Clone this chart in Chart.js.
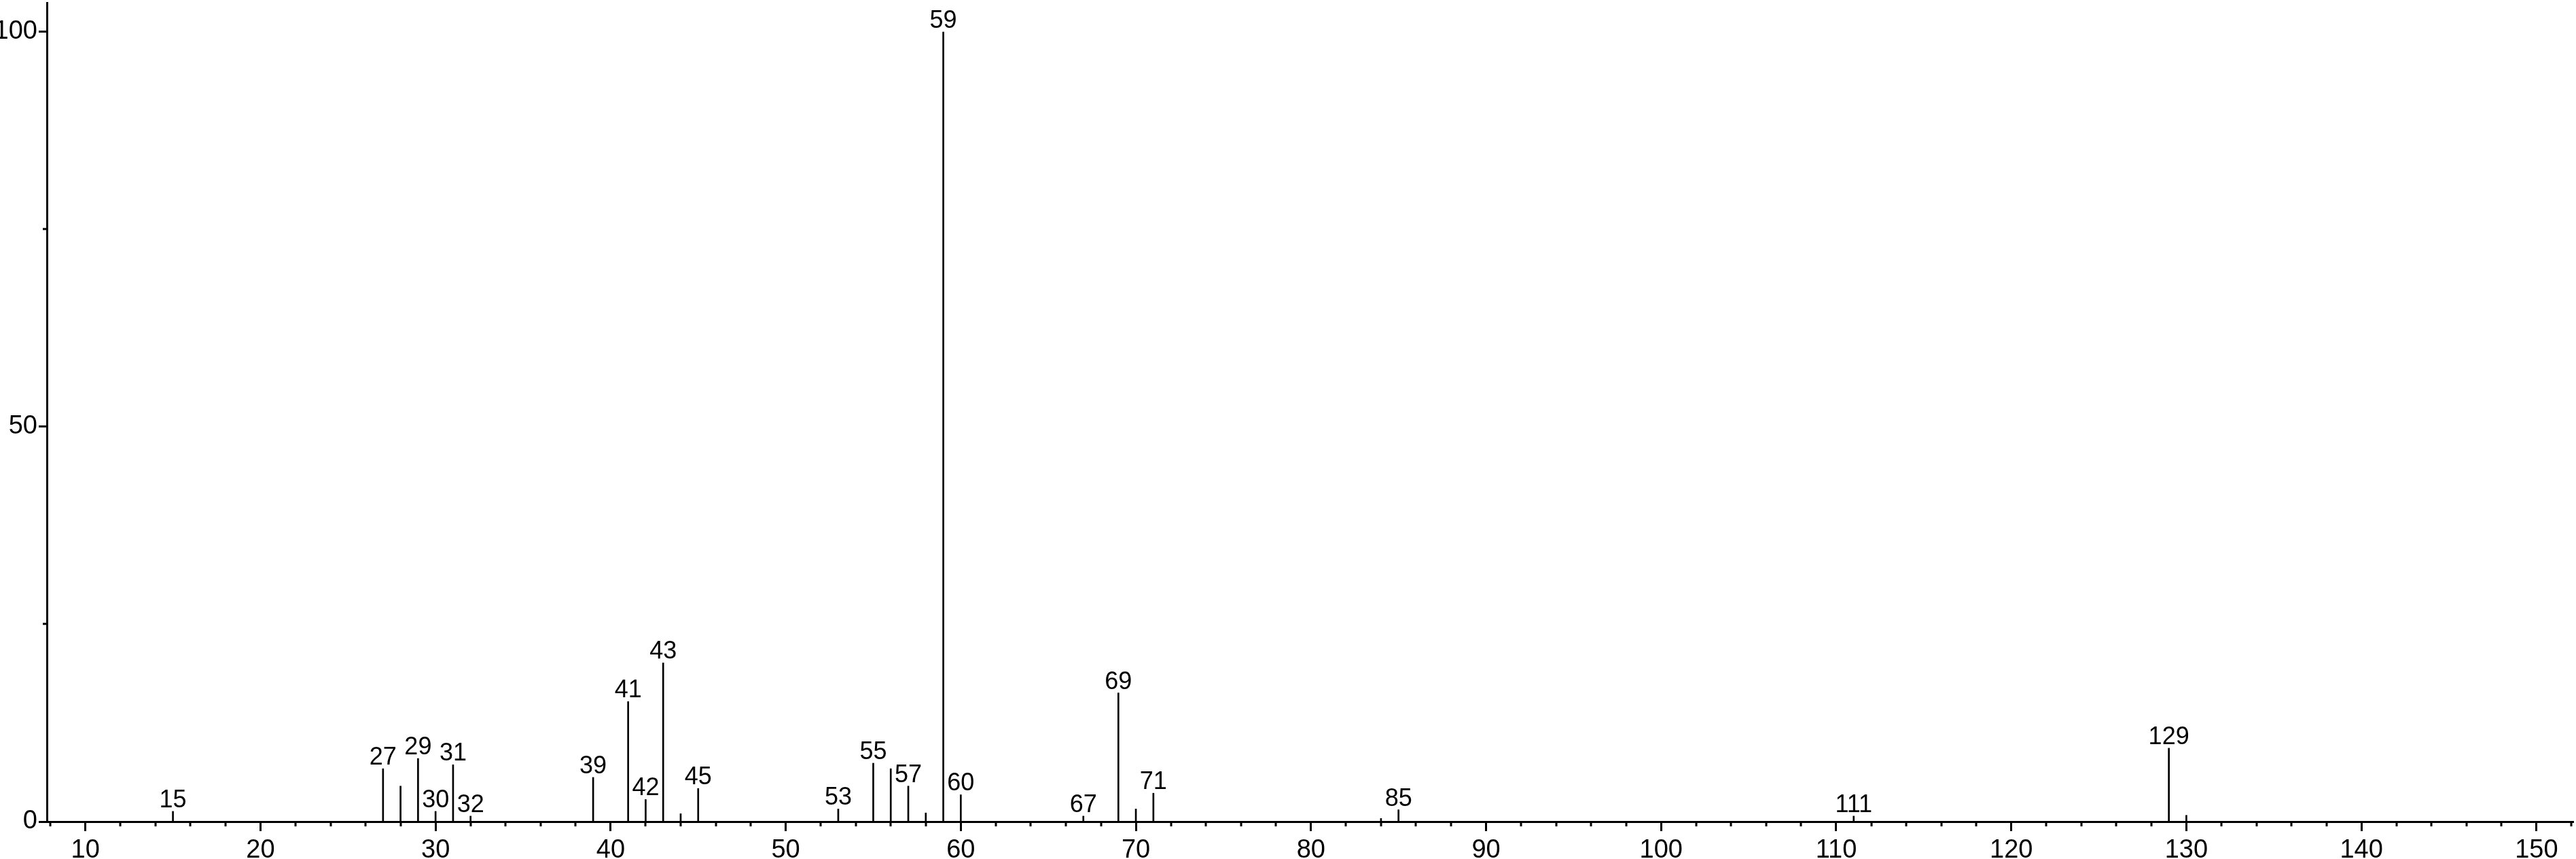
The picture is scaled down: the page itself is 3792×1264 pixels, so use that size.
<!DOCTYPE html>
<html>
<head>
<meta charset="utf-8">
<script src="https://cdn.jsdelivr.net/npm/chart.js@4.4.1/dist/chart.umd.min.js"></script>
<style>
  html, body { margin: 0; padding: 0; background: #fff; }
  #wrap { width: 3792px; height: 1264px; }
</style>
</head>
<body>
<div id="wrap"><canvas id="chart" width="3792" height="1264"></canvas></div>
<script>
// m/z values and relative intensities
const mz = [15, 27, 28, 29, 30, 31, 32, 39, 41, 42, 43, 44, 45, 53, 55, 56, 57, 58, 59, 60, 67, 69, 70, 71, 84, 85, 111, 129, 130]
const intensity = [1.3, 6.7, 4.5, 8.0, 1.3, 7.2, 0.7, 5.6, 15.2, 2.8, 20.1, 1.0, 4.2, 1.6, 7.4, 6.7, 4.5, 1.1, 100, 3.4, 0.7, 16.3, 1.6, 3.6, 0.4, 1.5, 0.7, 9.3, 0.8]
// peaks that carry a text label
const labeled = [15, 27, 29, 30, 31, 32, 39, 41, 42, 43, 45, 53, 55, 57, 59, 60, 67, 69, 71, 85, 111, 129]
// axis ranges and tick steps
const xRange = [7.8, 152.1]
const yRange = [0, 103.7]
const xMajor = 10, xMinor = 2
const yMajor = 50, yMinor = 25

const FONT = '"Liberation Sans", Arial, sans-serif'

const points = mz.map((m, i) => ({ x: m, y: intensity[i] }))

// peak labels + short minor ticks
const peakLabels = {
  id: 'peakLabels',
  afterDraw(chart) {
    const ctx = chart.ctx
    const meta = chart.getDatasetMeta(0)
    ctx.save()
    ctx.fillStyle = '#000'
    ctx.font = '36px ' + FONT
    ctx.textAlign = 'center'
    ctx.textBaseline = 'alphabetic'
    meta.data.forEach((bar, i) => {
      if (labeled.includes(mz[i])) {
        ctx.fillText(String(mz[i]), bar.x, bar.y - 6)
      }
    })

    // minor ticks
    const xs = chart.scales.x
    const ys = chart.scales.y
    ctx.strokeStyle = '#000'
    ctx.lineWidth = 3
    ctx.beginPath()
    xs.ticks.forEach(t => {
      if (t.value % xMajor !== 0) {
        const px = Math.round(xs.getPixelForValue(t.value))
        ctx.moveTo(px, xs.top)
        ctx.lineTo(px, xs.top + 7)
      }
    })
    ys.ticks.forEach(t => {
      if (t.value % yMajor !== 0) {
        const py = Math.round(ys.getPixelForValue(t.value))
        ctx.moveTo(ys.right - 6, py)
        ctx.lineTo(ys.right, py)
      }
    })
    ctx.stroke()
    ctx.restore()
  }
}

Chart.defaults.font.family = FONT
Chart.defaults.color = '#000'

const config = {
  type: 'bar',
  data: {
    datasets: [{
      data: points,
      backgroundColor: '#000',
      borderWidth: 0,
      barThickness: 2
    }]
  },
  options: {
    responsive: false,
    animation: false,
    devicePixelRatio: 1,
    layout: { padding: { top: 4, right: 4, left: 0, bottom: 0 } },
    plugins: {
      legend: { display: false },
      tooltip: { enabled: false },
      title: { display: false }
    },
    scales: {
      x: {
        type: 'linear',
        offset: false,
        min: xRange[0],
        max: xRange[1],
        border: { display: true, color: '#000', width: 3 },
        grid: {
          offset: false,
          drawOnChartArea: false,
          drawTicks: true,
          tickLength: 14,
          tickWidth: 3,
          tickColor: (c) => (c.tick && c.tick.value % xMajor === 0) ? '#000' : 'rgba(0,0,0,0)'
        },
        ticks: {
          stepSize: xMinor,
          autoSkip: false,
          includeBounds: false,
          maxRotation: 0,
          padding: 6,
          font: { size: 38 },
          callback: (v) => v % xMajor === 0 ? String(v) : ''
        },
        afterFit: (s) => { s.height = 55; s.paddingLeft = 0; s.paddingRight = 0 }
      },
      y: {
        min: yRange[0],
        max: yRange[1],
        border: { display: true, color: '#000', width: 3 },
        grid: {
          drawOnChartArea: false,
          drawTicks: true,
          tickLength: 12,
          tickWidth: 3,
          tickColor: (c) => (c.tick && c.tick.value % yMajor === 0) ? '#000' : 'rgba(0,0,0,0)'
        },
        ticks: {
          stepSize: yMinor,
          autoSkip: false,
          includeBounds: false,
          padding: 2,
          font: { size: 38 },
          callback: (v) => v % yMajor === 0 ? String(v) : ''
        },
        afterFit: (s) => { s.width = 69; s.paddingTop = 0; s.paddingBottom = 0 }
      }
    }
  },
  plugins: [peakLabels]
}

const mychart = new Chart(document.getElementById('chart').getContext('2d'), config)
</script>
</body>
</html>
